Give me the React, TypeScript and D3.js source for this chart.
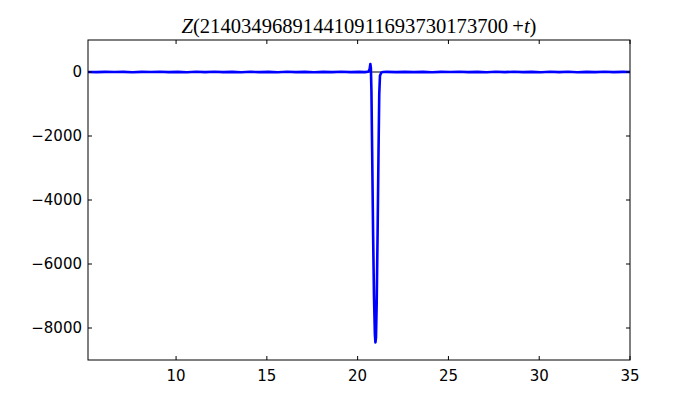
import * as d3 from "d3";

// t offsets and Z values (baseline, spike, baseline)
const tLeft = [
  5.15, 5.6, 6.1, 6.6, 7.1, 7.6, 8.1, 8.6, 9.1, 9.6, 10.1, 10.6, 11.1, 11.6,
  12.1, 12.6, 13.1, 13.6, 14.1, 14.6, 15.1, 15.6, 16.1, 16.6, 17.1, 17.6, 18.1,
  18.6, 19.1, 19.6, 20.1, 20.4,
];
const zLeft = [
  2, -4, 5, -2, 3, -6, 4, -2, 7, -5, 3, -7, 6, -3, 8, -5, 4, -7, 6, -4, 3, -6,
  7, -3, 5, -6, 5, -4, 6, -5, 4, -3,
];
const tSpike = [
  20.5, 20.6, 20.66, 20.7, 20.73, 20.76, 20.8, 20.85, 20.9, 20.95, 20.98,
  21.01, 21.05, 21.1, 21.15, 21.19, 21.23, 21.3, 21.4,
];
const zSpike = [
  3, 15, 90, 250, 120, -600, -2500, -5000, -7000, -8200, -8450, -8300, -7200,
  -5000, -2500, -700, -120, -20, 0,
];
const tRight = [
  21.6, 22.1, 22.6, 23.1, 23.6, 24.1, 24.6, 25.1, 25.6, 26.1, 26.6, 27.1, 27.6,
  28.1, 28.6, 29.1, 29.6, 30.1, 30.6, 31.1, 31.6, 32.1, 32.6, 33.1, 33.6, 34.1,
  34.6, 35.0,
];
const zRight = [
  4, -3, 5, -4, 3, -6, 5, -2, 6, -5, 3, -7, 6, -4, 7, -5, 4, -6, 7, -3, 6, -7,
  5, -4, 6, -3, 4, -2,
];

const xTicks = [10, 15, 20, 25, 30, 35];
const yTicks = [0, -2000, -4000, -6000, -8000];
const titleDigits = "214034968914410911693730173700";

const width = 700;
const height = 400;
const marginLeft = 88;
const marginRight = 70;
const marginTop = 40;
const marginBottom = 40;

export default function App() {
  const x = d3.scaleLinear([5.15, 35], [marginLeft, width - marginRight]);
  const y = d3.scaleLinear([-9000, 1000], [height - marginBottom, marginTop]);

  const ts = [...tLeft, ...tSpike, ...tRight];
  const zs = [...zLeft, ...zSpike, ...zRight];
  const pts: [number, number][] = ts.map((t, i) => [t, zs[i]]);

  const line = d3
    .line<[number, number]>()
    .x((d) => x(d[0]))
    .y((d) => y(d[1]));

  const x0 = marginLeft;
  const x1 = width - marginRight;
  const y0 = height - marginBottom;
  const y1 = marginTop;
  const tick = 4;
  const minus = (v: number) => (v < 0 ? "\u2212" + Math.abs(v) : String(v));

  return (
    <svg
      width={width}
      height={height}
      style={{ position: "absolute", left: 0, top: 0, background: "white" }}
    >
      <rect x={0} y={0} width={width} height={height} fill="white" />
      <defs>
        <clipPath id="plot">
          <rect x={x0} y={y1} width={x1 - x0} height={y0 - y1} />
        </clipPath>
      </defs>
      <g clipPath="url(#plot)">
        <line x1={x0} x2={x1} y1={y(0)} y2={y(0)} stroke="black" strokeWidth={1} />
        <path
          d={line(pts)!}
          fill="none"
          stroke="#0000ff"
          strokeWidth={2.6}
          strokeLinejoin="round"
        />
      </g>
      <g stroke="black" strokeWidth={1}>
        {xTicks.map((v) => (
          <g key={v}>
            <line x1={x(v)} x2={x(v)} y1={y0} y2={y0 - tick} />
            <line x1={x(v)} x2={x(v)} y1={y1} y2={y1 + tick} />
          </g>
        ))}
        {yTicks.map((v) => (
          <g key={v}>
            <line x1={x0} x2={x0 + tick} y1={y(v)} y2={y(v)} />
            <line x1={x1} x2={x1 - tick} y1={y(v)} y2={y(v)} />
          </g>
        ))}
      </g>
      <rect
        x={x0}
        y={y1}
        width={x1 - x0}
        height={y0 - y1}
        fill="none"
        stroke="black"
        strokeWidth={1}
      />
      <g fontFamily="DejaVu Sans" fontSize={15} fill="black">
        {xTicks.map((v) => (
          <text key={v} x={x(v)} y={y0 + 21} textAnchor="middle">
            {minus(v)}
          </text>
        ))}
        {yTicks.map((v) => (
          <text key={v} x={x0 - 6} y={y(v)} dy="0.36em" textAnchor="end">
            {minus(v)}
          </text>
        ))}
      </g>
      <text
        x={(x0 + x1) / 2}
        y={33}
        textAnchor="middle"
        fontFamily="Liberation Serif"
        fontSize={20}
        textLength={355}
        lengthAdjust="spacingAndGlyphs"
      >
        <tspan fontStyle="italic">Z</tspan>
        {"(" + titleDigits + "\u2009+"}
        <tspan fontStyle="italic">t</tspan>
        {")"}
      </text>
    </svg>
  );
}
